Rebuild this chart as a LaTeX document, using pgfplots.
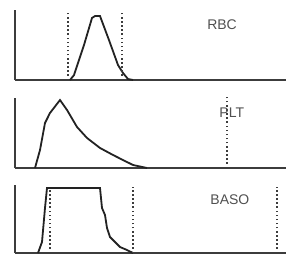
\documentclass[border=0pt]{standalone}
\usepackage{pgfplots}
\pgfplotsset{compat=1.18}
\usepackage{fontspec}
\setmainfont{Liberation Sans}
\definecolor{axc}{HTML}{3C3C3C}
\definecolor{cur}{HTML}{222222}
\definecolor{dotc}{HTML}{3C3C3C}
\definecolor{txt}{HTML}{505050}
\tikzset{lab/.style={font=\fontsize{14}{15}\selectfont, text=txt}}
\pgfplotsset{
  panel/.style={
    scale only axis, width=271pt, height=70pt,
    xmin=0, xmax=271, ymin=0, ymax=100,
    axis x line=bottom, axis y line=left,
    axis line style={-, line width=1.7pt, color=axc},
    ticks=none, clip=false,
  },
  curve/.style={line width=1.8pt, color=cur, mark=none},
  vdot/.style={line width=1.6pt, color=dotc, dash pattern=on 1.5pt off 2.6pt, mark=none},
}
\begin{document}
\begin{tikzpicture}[x=1pt,y=1pt]
\useasboundingbox (0,0) rectangle (286,255);
% RBC
\begin{axis}[panel, at={(15pt,175pt)}]
\addplot[curve] coordinates {(55,0) (59,7) (60,11.4) (69,50) (77,88.6) (80,91.4) (85,91.4) (94,57) (103,21.4) (108,10) (113,1.4) (118,0)};
\addplot[vdot] coordinates {(53,0) (53,97)};
\addplot[vdot] coordinates {(107,0) (107,97)};
\node[lab] at (rel axis cs:0.764,0.786) {RBC};
\end{axis}
% PLT
\begin{axis}[panel, at={(15pt,87pt)}]
\addplot[curve] coordinates {(20,0) (25,25.7) (30,64.3) (35,78.6) (45,97.1) (52,82.9) (62,58.6) (72,42.9) (85,28.6) (98,18.6) (108,11.4) (118,4.3) (132,0)};
\addplot[vdot] coordinates {(212,0) (212,104)};
\node[lab] at (rel axis cs:0.80,0.786) {PLT};
\end{axis}
% BASO
\begin{axis}[panel, height=68pt, at={(15pt,2pt)}]
\addplot[curve] coordinates {(23,0) (27,16.2) (30,66.2) (32,95.6) (85,95.6) (87,66.2) (90,55.9) (92,36.8) (95,23.5) (100,16.2) (105,8.8) (112,4.4) (118,0)};
\addplot[vdot] coordinates {(35,0) (35,95)};
\addplot[vdot] coordinates {(118,0) (118,97)};
\addplot[vdot] coordinates {(262,0) (262,97)};
\node[lab] at (rel axis cs:0.793,0.78) {BASO};
\end{axis}
\end{tikzpicture}
\end{document}
